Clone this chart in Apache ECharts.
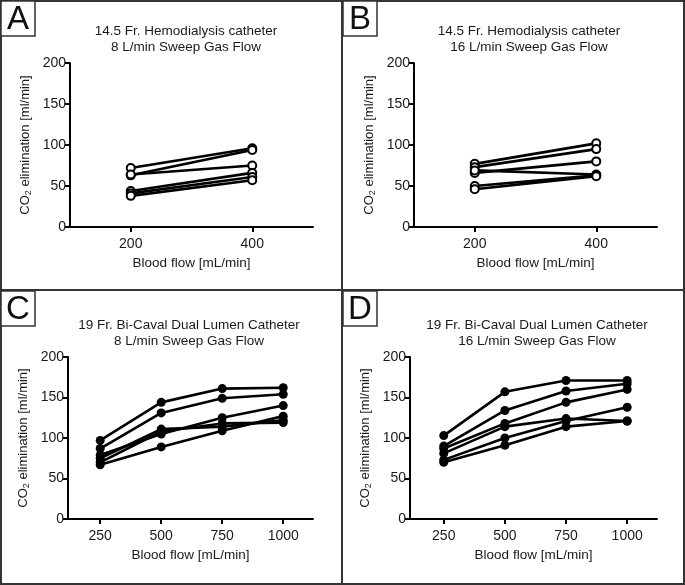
<!DOCTYPE html>
<html><head><meta charset="utf-8">
<script src="https://cdn.jsdelivr.net/npm/echarts@6/dist/echarts.min.js"></script>
<style>html,body{margin:0;padding:0;background:#fff}#c{width:685px;height:585px}</style>
</head><body><div id="c"></div>
<script>
// ---- data ----
var xHemo = [200, 400];
var xBicaval = [250, 500, 750, 1000];
var hemoTicks = [200, 400];
var bicavalTicks = [250, 500, 750, 1000];
var yTicks = [0, 50, 100, 150, 200];

var panelA = [[72, 96], [63, 94], [64, 75], [44, 66], [41, 61], [38, 57]];
var panelB = [[77, 102], [73, 95], [66, 80], [69, 64], [50, 63], [46, 62]];
var panelC = [[97, 144, 161, 162], [87, 131, 149, 154], [79, 105, 125, 140], [75, 111, 114, 122], [70, 108, 118, 119], [67, 89, 109, 127]];
var panelD = [[103, 157, 171, 171], [90, 134, 158, 167], [87, 118, 144, 160], [81, 114, 124, 121], [73, 100, 121, 138], [70, 91, 114, 121]];

var titlesLine1 = ['14.5 Fr. Hemodialysis catheter', '14.5 Fr. Hemodialysis catheter', '19 Fr. Bi-Caval Dual Lumen Catheter', '19 Fr. Bi-Caval Dual Lumen Catheter'];
var titlesLine2 = ['8 L/min Sweep Gas Flow', '16 L/min Sweep Gas Flow', '8 L/min Sweep Gas Flow', '16 L/min Sweep Gas Flow'];
var panelLetters = ['A', 'B', 'C', 'D'];
var xName = 'Blood flow [mL/min]';

// ---- layout ----
var FONT = '"Liberation Sans", Arial, Helvetica, sans-serif';
var grids = [
  {left: 70, top: 63, width: 243, height: 164},
  {left: 414, top: 63, width: 243, height: 164},
  {left: 68, top: 357, width: 245, height: 162},
  {left: 410, top: 357, width: 247, height: 162}
];
var titleCenters = [181, 524, 184, 532];
var xRanges = [[100, 500], [100, 500], [118, 1122], [112, 1122]];
var xs = [xHemo, xHemo, xBicaval, xBicaval];
var ticksX = [hemoTicks, hemoTicks, bicavalTicks, bicavalTicks];
var panels = [panelA, panelB, panelC, panelD];
var openMarker = [true, true, false, false];

var chart = echarts.init(document.getElementById('c'), null, {renderer: 'canvas'});

var xAxes = [], yAxes = [], series = [], titles = [], graphics = [];
for (var p = 0; p < 4; p++) {
  xAxes.push({
    type: 'value', gridIndex: p, min: xRanges[p][0], max: xRanges[p][1],
    splitLine: {show: false},
    axisLine: {lineStyle: {color: '#000', width: 2}},
    axisTick: {show: true, length: 5, lineStyle: {color: '#000', width: 2}, customValues: ticksX[p]},
    axisLabel: {customValues: ticksX[p], color: '#1a1a1a', fontSize: 14, fontFamily: FONT, margin: 10,
      formatter: function (v) { return String(v); }},
    name: xName, nameLocation: 'middle', nameGap: 29,
    nameTextStyle: {color: '#1a1a1a', fontSize: 13.5, fontFamily: FONT}
  });
  yAxes.push({
    type: 'value', gridIndex: p, min: 0, max: 200, interval: 50,
    splitLine: {show: false},
    axisLine: {show: true, lineStyle: {color: '#000', width: 2}},
    axisTick: {show: true, length: 5, lineStyle: {color: '#000', width: 2}},
    axisLabel: {color: '#1a1a1a', fontSize: 14, fontFamily: FONT, margin: 4},
    name: '{a|CO}{b|2}{a| elimination [ml/min]}', nameLocation: 'middle', nameGap: 37,
    nameTextStyle: {
      color: '#1a1a1a', fontFamily: FONT,
      rich: {
        a: {fontSize: 13, fontFamily: FONT, color: '#1a1a1a'},
        b: {fontSize: 9, fontFamily: FONT, color: '#1a1a1a', verticalAlign: 'bottom', padding: [6, 0, 0, 0]}
      }
    }
  });
  var data = panels[p];
  for (var s = 0; s < data.length; s++) {
    var pts = [];
    for (var k = 0; k < xs[p].length; k++) pts.push([xs[p][k], data[s][k]]);
    series.push({
      type: 'line', xAxisIndex: p, yAxisIndex: p, data: pts,
      symbol: 'circle', symbolSize: openMarker[p] ? 8 : 9,
      lineStyle: {color: '#000', width: 2.6},
      itemStyle: openMarker[p] ? {color: '#fff', borderColor: '#000', borderWidth: 2} : {color: '#000', borderColor: '#000', borderWidth: 0},
      animation: false, silent: true
    });
  }
  var g = grids[p];
  titles.push({
    text: titlesLine1[p] + '\n' + titlesLine2[p],
    left: titleCenters[p], top: g.top - 45, textAlign: 'center',
    textStyle: {fontSize: 13.5, fontWeight: 'normal', color: '#1a1a1a', fontFamily: FONT, lineHeight: 16}
  });
}

// panel frames and letter boxes
var panelOrigins = [[0, 0], [342, 0], [0, 290], [342, 290]];
graphics.push({type: 'rect', shape: {x: 1, y: 1, width: 683, height: 583}, style: {fill: 'none', stroke: '#333', lineWidth: 2}});
graphics.push({type: 'line', shape: {x1: 342, y1: 0, x2: 342, y2: 585}, style: {stroke: '#333', lineWidth: 2}});
graphics.push({type: 'line', shape: {x1: 0, y1: 290, x2: 685, y2: 290}, style: {stroke: '#333', lineWidth: 2}});
for (var q = 0; q < 4; q++) {
  var o = panelOrigins[q];
  graphics.push({type: 'rect', shape: {x: o[0] + 1, y: o[1] + 1, width: 34, height: 35}, style: {fill: '#fff', stroke: '#333', lineWidth: 1.5}});
  graphics.push({type: 'text', x: o[0] + 18, y: o[1] + 20, style: {text: panelLetters[q], font: '33px ' + FONT, fill: '#111', textAlign: 'center', textVerticalAlign: 'middle'}});
}

chart.setOption({
  backgroundColor: '#fff',
  animation: false,
  title: titles,
  grid: grids,
  xAxis: xAxes,
  yAxis: yAxes,
  series: series,
  graphic: graphics
});
</script>
</body></html>
